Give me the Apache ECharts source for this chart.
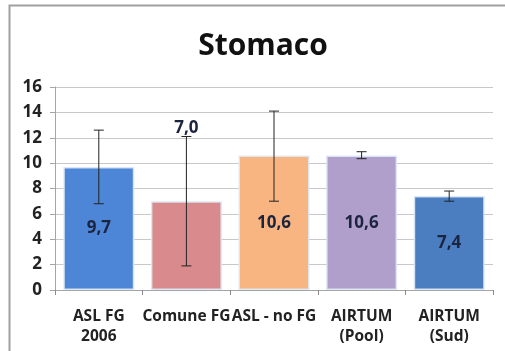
<!DOCTYPE html>
<html><head><meta charset="utf-8">
<script src="https://cdn.jsdelivr.net/npm/echarts@6/dist/echarts.min.js"></script>
<style>html,body{margin:0;padding:0;background:#fff}#c{width:505px;height:351px}</style>
</head><body><div id="c"></div>
<script>
const categories = ['ASL FG\n2006', 'Comune FG', 'ASL - no FG', 'AIRTUM\n(Pool)', 'AIRTUM\n(Sud)'];
const values = [9.7, 7.0, 10.6, 10.6, 7.4];
const errLow = [6.8, 1.9, 7.0, 10.35, 7.0];
const errHigh = [12.6, 12.1, 14.1, 10.9, 7.8];
const barColors = ['#4d86d6', '#d98a8d', '#f9b581', '#b09fcb', '#4a7ec1'];
const yTicks = [0, 2, 4, 6, 8, 10, 12, 14, 16];

const chart = echarts.init(document.getElementById('c'), null, {renderer: 'canvas'});
const fmt = v => v.toFixed(1).replace('.', ',');
chart.setOption({
  animation: false,
  backgroundColor: '#fff',
  graphic: [{
    type: 'rect', shape: {x: 9.5, y: 5.5, width: 520, height: 360},
    style: {fill: 'none', stroke: '#a0a0a0', lineWidth: 2}, silent: true
  }],
  title: {
    text: 'Stomaco', left: 258, top: 26, textAlign: 'center',
    textStyle: {fontFamily: 'Open Sans', fontWeight: 'bold', fontSize: 30, color: '#111'}
  },
  grid: {left: 55, right: 12, top: 87, bottom: 61, containLabel: false},
  xAxis: {
    type: 'category', data: categories,
    axisLine: {lineStyle: {color: '#a6a6a6'}},
    axisTick: {show: true, length: 5, lineStyle: {color: '#8c8c8c'}},
    axisLabel: {fontFamily: 'Open Sans', fontWeight: 'bold', fontSize: 15.5, color: '#222', lineHeight: 20, margin: 17, interval: 0}
  },
  yAxis: {
    type: 'value', min: yTicks[0], max: yTicks[yTicks.length - 1], interval: 2,
    axisLine: {show: true, lineStyle: {color: '#a6a6a6'}},
    axisTick: {show: true, length: 5, lineStyle: {color: '#a6a6a6'}},
    splitLine: {lineStyle: {color: '#c8c8c8'}},
    axisLabel: {fontFamily: 'Open Sans', fontWeight: 'bold', fontSize: 17, color: '#222', margin: 13}
  },
  series: [{
    type: 'bar', barCategoryGap: '19%',
    data: values.map((v, i) => ({
      value: v,
      itemStyle: {color: barColors[i], borderColor: 'rgba(220,232,245,0.9)', borderWidth: 1.5},
      label: i === 1 ? {position: 'top', offset: [0, -60]} : {}
    })),
    label: {
      show: true, position: 'inside', formatter: p => fmt(p.value),
      fontFamily: 'Open Sans', fontWeight: 'bold', fontSize: 17, color: '#1c2440'
    },
    z: 2
  }, {
    type: 'custom',
    data: errLow.map((l, i) => [i, l, errHigh[i]]),
    renderItem: (params, api) => {
      const i = api.value(0);
      const lo = api.coord([i, api.value(1)]);
      const hi = api.coord([i, api.value(2)]);
      const w = 5;
      const st = {stroke: '#222', lineWidth: 1};
      return {type: 'group', children: [
        {type: 'line', shape: {x1: lo[0], y1: lo[1], x2: hi[0], y2: hi[1]}, style: st},
        {type: 'line', shape: {x1: lo[0] - w, y1: lo[1], x2: lo[0] + w, y2: lo[1]}, style: st},
        {type: 'line', shape: {x1: hi[0] - w, y1: hi[1], x2: hi[0] + w, y2: hi[1]}, style: st}
      ]};
    },
    z: 3
  }]
});
</script></body></html>
